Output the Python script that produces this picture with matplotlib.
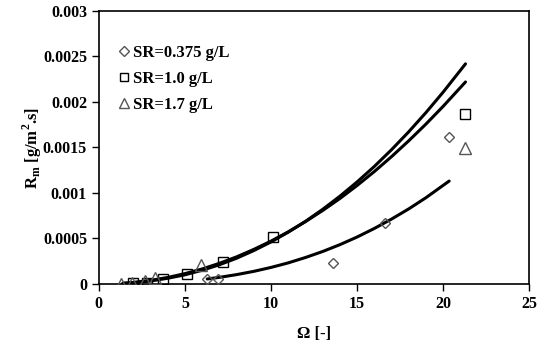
import matplotlib
matplotlib.use("Agg")
import matplotlib.pyplot as plt

# measured points
x_sr0375 = [6.26, 6.9, 13.6, 16.6, 20.35]
y_sr0375 = [0.000055, 0.000055, 0.000227, 0.00067, 0.00161]

x_sr10 = [2.0, 2.8, 3.7, 5.13, 7.23, 10.1, 21.28]
y_sr10 = [0.00001, 0.000015, 0.00005, 0.000107, 0.000245, 0.00052, 0.00187]

x_sr17 = [1.3, 1.9, 2.7, 3.25, 5.93, 21.28]
y_sr17 = [0.000003, 0.000008, 0.00003, 0.00007, 0.00021, 0.00149]

# fitted curves
fit_x_a = [1.4, 2, 3, 4, 5, 6, 7, 8, 9, 10, 11, 12, 13, 14, 15, 16, 17,
           18, 19, 20, 21.3]
fit_y_a = [6.2e-6, 1.4e-5, 3.3e-5, 6.3e-5, 1.01e-4, 1.51e-4, 2.11e-4,
           2.83e-4, 3.67e-4, 4.62e-4, 5.69e-4, 6.88e-4, 8.20e-4, 9.64e-4,
           1.121e-3, 1.291e-3, 1.475e-3, 1.672e-3, 1.883e-3, 2.108e-3, 2.419e-3]
fit_x_b = [1.4, 2, 3, 4, 5, 6, 7, 8, 9, 10, 11, 12, 13, 14, 15, 16, 17,
           18, 19, 20, 21.3]
fit_y_b = [8.4e-6, 1.7e-5, 4.0e-5, 7.2e-5, 1.14e-4, 1.65e-4, 2.27e-4,
           2.98e-4, 3.80e-4, 4.71e-4, 5.73e-4, 6.85e-4, 8.07e-4, 9.39e-4,
           1.082e-3, 1.235e-3, 1.399e-3, 1.573e-3, 1.757e-3, 1.952e-3, 2.220e-3]
fit_x_c = [6.3, 7, 8, 9, 10, 11, 12, 13, 14, 15, 16, 17, 18, 19, 20.35]
fit_y_c = [5.55e-5, 7.3e-5, 1.03e-4, 1.39e-4, 1.82e-4, 2.32e-4, 2.91e-4,
           3.57e-4, 4.32e-4, 5.16e-4, 6.10e-4, 7.13e-4, 8.25e-4, 9.48e-4,
           1.131e-3]

plt.rcParams['font.family'] = ['Liberation Serif', 'DejaVu Serif']
plt.rcParams['font.weight'] = 'bold'

fig = plt.figure(figsize=(5.4, 3.43), dpi=100)
ax = fig.add_axes([0.183, 0.172, 0.797, 0.796])

for fx, fy in [(fit_x_a, fit_y_a), (fit_x_b, fit_y_b), (fit_x_c, fit_y_c)]:
    ax.plot(fx, fy, color='black', lw=2.2, zorder=2, solid_capstyle='round',
            solid_joinstyle='round')

ax.plot(x_sr0375, y_sr0375, ls='none', marker='D', ms=5.5, mfc='none',
        mec='#555555', mew=1.0, label='SR=0.375 g/L', zorder=3)
ax.plot(x_sr10, y_sr10, ls='none', marker='s', ms=7.5, mfc='none',
        mec='black', mew=1.0, label='SR=1.0 g/L', zorder=3)
ax.plot(x_sr17, y_sr17, ls='none', marker='^', ms=8.5, mfc='none',
        mec='#555555', mew=1.0, label='SR=1.7 g/L', zorder=3)

ax.set_xlim(0, 25)
ax.set_ylim(0, 0.003)
ax.set_xticks([0, 5, 10, 15, 20, 25])
ax.set_yticks([0, 0.0005, 0.001, 0.0015, 0.002, 0.0025, 0.003])
ax.set_yticklabels(['0', '0.0005', '0.001', '0.0015', '0.002', '0.0025', '0.003'])
ax.tick_params(direction='out', length=5, width=1, labelsize=11.5, colors='black')
for s in ax.spines.values():
    s.set_linewidth(1.2)

ax.set_xlabel('Ω [-]', fontsize=12, fontweight='bold', labelpad=10)
ax.set_ylabel(r'R$_\mathregular{m}$ [g/m$^\mathregular{2}$.s]', fontsize=12,
              fontweight='bold')
ax.yaxis.set_label_coords(-0.127, 0.5)

leg = ax.legend(loc='upper left', bbox_to_anchor=(0.005, 0.932), frameon=False,
                handletextpad=0.05, handlelength=1.0, labelspacing=0.6,
                markerscale=0.85, prop={'weight': 'bold', 'size': 12})

fig.savefig('out.png', dpi=100)
